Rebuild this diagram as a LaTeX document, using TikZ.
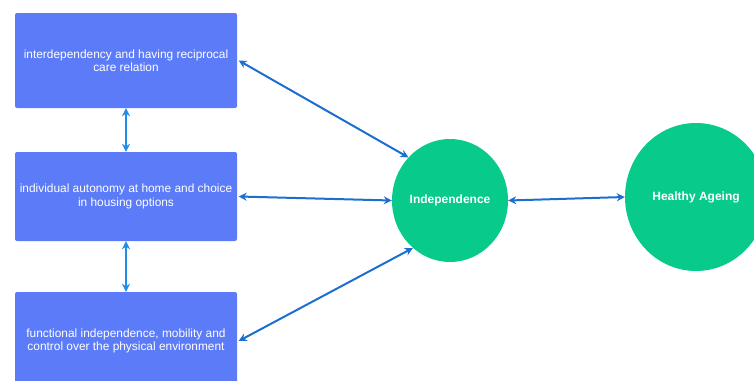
\documentclass[tikz,border=0pt]{standalone}
\usepackage{fontspec}
\setmainfont{Liberation Sans}
\usetikzlibrary{arrows.meta}
\usetikzlibrary{shapes.geometric}
\usetikzlibrary{positioning}
\definecolor{boxblue}{HTML}{5C7BF9}
\definecolor{leafgreen}{HTML}{08CA8A}
\definecolor{linkblue}{HTML}{1C6FD0}
\definecolor{stemblue}{HTML}{1E8EEA}

\begin{document}
\begin{tikzpicture}[x=1pt, y=-1pt,
    factor/.style={draw=none, fill=boxblue, rounded corners=2pt, minimum width=222pt,
        text=white, align=center, font=\fontsize{11.9}{13.5}\selectfont},
    hub/.style={ellipse, fill=leafgreen, inner sep=0pt, text=white, font=\bfseries\fontsize{12}{13}\selectfont},
    link/.style={draw=linkblue, line width=2pt, {Stealth[length=8pt,width=8pt]}-{Stealth[length=8pt,width=8pt]}},
    stem/.style={link, draw=stemblue}]
                \useasboundingbox (0, 0) rectangle (754, 380);
                \clip (0, 0) rectangle (754, 380);
                \node[factor, minimum height=95pt] (care) at (126, 60.5) {interdependency and having reciprocal\\care relation};
                \node[factor, minimum height=89pt] (home) at (126, 196.5) {individual autonomy at home and choice\\in housing options};
                \node[factor, minimum height=98pt] (move) at (126, 341) {functional independence, mobility and\\control over the physical environment};
                \node[hub, minimum width=116pt, minimum height=123pt] (indep) at (450, 200.5) {Independence};
                \node[hub, minimum width=142pt, minimum height=148pt] (ageing) at (696, 197) {Healthy Ageing};
                \draw[stem] (care.south) -- (home.north);
                \draw[stem] (home.south) -- (move.north);
                \draw[link] ([xshift=1.5pt]care.east) -- (indep.134);
                \draw[link] ([xshift=1.5pt]home.east) -- (indep.west);
                \draw[link] ([xshift=1.5pt]move.east) -- (indep.-128);
                \draw[link] (indep.east) -- (ageing.west);
            \end{tikzpicture}
\end{document}
